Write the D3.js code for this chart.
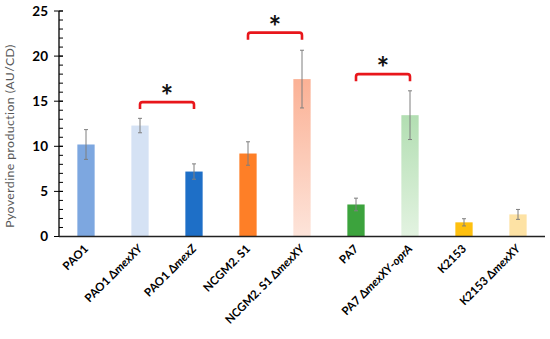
<!DOCTYPE html>
<html>
<head>
<meta charset="utf-8">
<script src="https://cdn.jsdelivr.net/npm/d3@7"></script>
<style>
  body { margin: 0; background: #fff; }
  text { font-family: Lato, "Open Sans", sans-serif; }
</style>
</head>
<body>
<div id="chart"></div>
<script>
// strains and measured values
var strains = ["PAO1", "PAO1 \u0394mexXY", "PAO1 \u0394mexZ", "NCGM2. S1", "NCGM2. S1 \u0394mexXY",
               "PA7", "PA7 \u0394mexXY-oprA", "K2153", "K2153 \u0394mexXY"];
var values = [10.2, 12.3, 7.2, 9.2, 17.45, 3.55, 13.45, 1.57, 2.45];
var errors = [1.65, 0.8, 0.85, 1.3, 3.2, 0.7, 2.7, 0.4, 0.55];
var colors = ["#7da7e0", "#d5e2f4", "#1e6fc7", "#fe7f27", "grad-salmon", "#3ca33d", "grad-green", "#fec00f", "#fde2a4"];
var yTicks = [0, 5, 10, 15, 20, 25];
// significance brackets: [from index, to index, height]
var brackets = [[1, 2, 14.9], [3, 4, 22.6], [5, 6, 18.0]];

var width = 550, height = 339;
var margin = {top: 11, right: 5, bottom: 102.5, left: 59};

var svg = d3.select("#chart").append("svg")
    .attr("width", width)
    .attr("height", height);

var defs = svg.append("defs");
function addGrad(id, c1, c2) {
  var g = defs.append("linearGradient").attr("id", id)
      .attr("x1", 0).attr("y1", 0).attr("x2", 0).attr("y2", 1);
  g.append("stop").attr("offset", "0%").attr("stop-color", c1);
  g.append("stop").attr("offset", "100%").attr("stop-color", c2);
}
addGrad("grad-salmon", "#fbb195", "#fde4da");
addGrad("grad-green", "#b2deb2", "#e3f3e1");

var x = d3.scaleBand()
    .domain(strains)
    .range([margin.left, width - margin.right])
    .paddingInner(0.68)
    .paddingOuter(0.34);

var y = d3.scaleLinear()
    .domain([0, 25])
    .range([height - margin.bottom, margin.top]);

// bars
svg.selectAll(".bar")
  .data(strains)
  .enter().append("rect")
    .attr("class", "bar")
    .attr("x", function(d) { return x(d); })
    .attr("width", x.bandwidth())
    .attr("y", function(d, i) { return y(values[i]); })
    .attr("height", function(d, i) { return y(0) - y(values[i]); })
    .attr("fill", function(d, i) {
      return colors[i].indexOf("grad") == 0 ? "url(#" + colors[i] + ")" : colors[i];
    });

// error bars
var eb = svg.selectAll(".err")
  .data(strains)
  .enter().append("g")
    .attr("class", "err")
    .attr("stroke", "#7f7f7f")
    .attr("stroke-width", 1);
eb.append("line")
    .attr("x1", function(d) { return x(d) + x.bandwidth() / 2; })
    .attr("x2", function(d) { return x(d) + x.bandwidth() / 2; })
    .attr("y1", function(d, i) { return y(values[i] + errors[i]); })
    .attr("y2", function(d, i) { return y(values[i] - errors[i]); });
[1, -1].forEach(function(s) {
  eb.append("line")
    .attr("x1", function(d) { return x(d) + x.bandwidth() / 2 - 2; })
    .attr("x2", function(d) { return x(d) + x.bandwidth() / 2 + 2; })
    .attr("y1", function(d, i) { return y(values[i] + s * errors[i]); })
    .attr("y2", function(d, i) { return y(values[i] + s * errors[i]); });
});

// y axis
var yAxis = svg.append("g")
    .attr("transform", "translate(" + margin.left + ",0)");
yAxis.append("line")
    .attr("x1", 0).attr("x2", 0)
    .attr("y1", y(25)).attr("y2", y(0))
    .attr("stroke", "#000").attr("stroke-width", 1.3);
yAxis.selectAll(".minor")
  .data(d3.range(0, 26))
  .enter().append("line")
    .attr("x1", 0).attr("x2", 4)
    .attr("y1", function(d) { return y(d); })
    .attr("y2", function(d) { return y(d); })
    .attr("stroke", "#000");
yAxis.selectAll(".major")
  .data(yTicks)
  .enter().append("line")
    .attr("x1", -5).attr("x2", 4)
    .attr("y1", function(d) { return y(d); })
    .attr("y2", function(d) { return y(d); })
    .attr("stroke", "#000");
yAxis.selectAll(".tlabel")
  .data(yTicks)
  .enter().append("text")
    .attr("x", -11)
    .attr("y", function(d) { return y(d); })
    .attr("dy", "0.36em")
    .attr("text-anchor", "end")
    .attr("font-size", 13.5)
    .attr("font-weight", "bold")
    .text(function(d) { return d; });

// x axis line
svg.append("line")
    .attr("x1", margin.left).attr("x2", width - margin.right)
    .attr("y1", y(0)).attr("y2", y(0))
    .attr("stroke", "#222").attr("stroke-width", 1.3);

// category labels
svg.selectAll(".xlabel")
  .data(strains)
  .enter().append("text")
    .attr("text-anchor", "end")
    .attr("font-size", 11.5)
    .attr("font-weight", "bold")
    .attr("transform", function(d) {
      return "translate(" + (x(d) + x.bandwidth() / 2 + 3) + "," + (y(0) + 13) + ") rotate(-45)";
    })
    .each(function(d) {
      var t = d3.select(this);
      var k = d.indexOf("\u0394");
      if (k < 0) { t.text(d); return; }
      t.append("tspan").text(d.slice(0, k + 1));
      var rest = d.slice(k + 1);
      var m = rest.indexOf("-");
      if (m < 0) {
        t.append("tspan").attr("font-style", "italic").text(rest);
      } else {
        t.append("tspan").attr("font-style", "italic").text(rest.slice(0, m));
        t.append("tspan").text("-");
        t.append("tspan").attr("font-style", "italic").text(rest.slice(m + 1));
      }
    });

// y axis title
svg.append("text")
    .attr("transform", "translate(14,136) rotate(-90)")
    .attr("text-anchor", "middle")
    .attr("font-family", "'Open Sans', sans-serif")
    .attr("font-size", 12.3)
    .attr("letter-spacing", 0.4)
    .attr("fill", "#595959")
    .text("Pyoverdine production (AU/CD)");

// significance brackets
brackets.forEach(function(b) {
  var x1 = x(strains[b[0]]) + x.bandwidth() / 2;
  var x2 = x(strains[b[1]]) + x.bandwidth() / 2;
  var yy = y(b[2]);
  var r = 2.5, leg = 7;
  svg.append("path")
      .attr("d", "M" + x1 + "," + (yy + leg) + " V" + (yy + r) + " Q" + x1 + "," + yy + " " + (x1 + r) + "," + yy +
                 " H" + (x2 - r) + " Q" + x2 + "," + yy + " " + x2 + "," + (yy + r) + " V" + (yy + leg))
      .attr("fill", "none")
      .attr("stroke", "#e8161b")
      .attr("stroke-width", 2.6);
  svg.append("text")
      .attr("x", (x1 + x2) / 2)
      .attr("y", yy + 5)
      .attr("text-anchor", "middle")
      .attr("font-family", "DejaVu Sans")
      .attr("font-weight", "bold")
      .attr("font-size", 30)
      .attr("fill", "#111")
      .text("*");
});
</script>
</body>
</html>
